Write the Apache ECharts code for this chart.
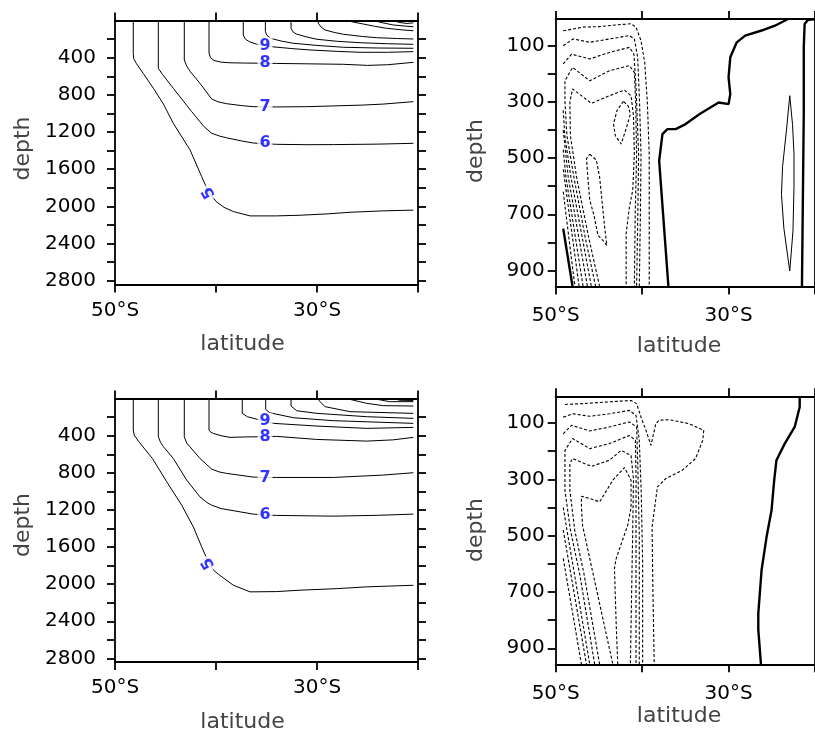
<!DOCTYPE html>
<html><head><meta charset="utf-8">
<script src="https://cdn.jsdelivr.net/npm/echarts@6/dist/echarts.min.js"></script>
<style>html,body{margin:0;padding:0;background:#fff}#c{width:815px;height:733px}</style>
</head><body><div id="c"></div>
<script>
// ---------- axis tick values ----------
const latTicks = [-50, -40, -30, -20];
const latLabels = [-50, -30];
const deepTicks = [200,400,600,800,1000,1200,1400,1600,1800,2000,2200,2400,2600,2800];
const deepLabels = [400,800,1200,1600,2000,2400,2800];
const shallowTicks = [100,200,300,400,500,600,700,800,900];
const shallowLabels = [100,300,500,700,900];

// ---------- upper-left panel: temperature contours [lat, depth] ----------
const tl5 = [[-48.19,0],[-48.19,353],[-48.15,410],[-47.9,460],[-47.2,570],[-46.2,729],[-45.2,900],[-44.23,1106],[-42.57,1392],[-41.42,1679],[-40.76,1840],[-39.98,1948],[-39.2,2010],[-38.29,2055],[-36.63,2102],[-34,2102],[-31.68,2095],[-28.9,2080],[-26.73,2063],[-23.5,2048],[-20.46,2040]];
const tl6 = [[-45.71,0],[-45.71,514],[-45.3,580],[-44.23,729],[-42.41,980],[-41.2,1140],[-40.43,1213],[-39.6,1245],[-38.95,1262],[-37.5,1295],[-36.31,1318],[-34,1332],[-31,1336],[-28.38,1335],[-24,1330],[-20.46,1321]];
const tl7 = [[-43.14,0],[-43.14,425],[-42.9,490],[-42.58,545],[-41.59,676],[-40.43,844],[-39.8,875],[-38.95,895],[-37.5,915],[-36.31,927],[-34,930],[-31,927],[-28.38,919],[-25.5,910],[-23.43,899],[-20.46,873]];
const tl8 = [[-40.69,0],[-40.69,350],[-40.55,400],[-40.2,430],[-39.5,448],[-38.6,455],[-37,458],[-35.15,460],[-34,462],[-31,466],[-27.4,471],[-25,483],[-23,476],[-20.46,450]];
const tl9 = [[-37.3,0],[-37.3,156],[-37.1,200],[-36.7,228],[-36,254],[-35.15,268],[-34.49,282],[-32.5,302],[-30.69,317],[-28,332],[-25.74,342],[-23,342],[-20.46,335]];
const tl10 = [[-35.11,0],[-35.11,120],[-34.95,160],[-34.6,192],[-33.5,222],[-32.35,245],[-30,268],[-27.4,288],[-24,296],[-20.46,299]];
const tl11 = [[-32.57,0],[-32.57,84],[-32.4,120],[-32.06,145],[-31,178],[-30,202],[-28,224],[-25.74,239],[-23,250],[-20.46,256]];
const tl12 = [[-29.87,0],[-29.87,30],[-29.6,70],[-29.2,102],[-28.3,128],[-27.4,148],[-25.5,172],[-24.1,185],[-22,194],[-20.46,199]];
const tl13 = [[-27.06,0],[-26.5,15],[-25.41,38],[-24.3,62],[-23.1,84],[-21.5,102],[-20.46,110]];
const tl14 = [[-24.43,0],[-23.5,25],[-22.45,48],[-21.3,60],[-20.46,67]];
const tl15 = [[-22.5,0],[-21.8,22],[-21.1,32],[-20.46,25]];
const tlLabels = [[-35.15,268,'9'],[-35.15,460,'8'],[-35.15,927,'7'],[-35.15,1320,'6'],[-40.7,1850,'5']];

// ---------- lower-left panel ----------
const bl5 = [[-48.19,0],[-48.19,339],[-48.1,393],[-47.6,470],[-46.3,645],[-44.88,896],[-43.4,1148],[-42.25,1382],[-41.42,1597],[-40.92,1722],[-40.26,1848],[-39.77,1893],[-38.29,2011],[-36.63,2083],[-34,2080],[-31.68,2065],[-28,2048],[-25.08,2029],[-20.46,2012]];
const bl6 = [[-45.71,0],[-45.71,411],[-45.5,470],[-45.2,519],[-44.23,645],[-42.9,879],[-41.59,1059],[-40.9,1120],[-40.43,1148],[-39.5,1185],[-38.61,1202],[-36.31,1245],[-35.15,1255],[-34,1259],[-28.38,1267],[-24,1258],[-20.46,1245]];
const bl7 = [[-43.14,0],[-43.14,411],[-42.9,480],[-42.58,519],[-41.59,645],[-40.43,760],[-39.7,790],[-38.95,806],[-36.31,846],[-35.15,849],[-34,850],[-28.38,850],[-23.43,824],[-20.46,799]];
const bl8 = [[-40.69,0],[-40.69,339],[-40.5,365],[-40.26,375],[-39.5,400],[-38.61,418],[-37,413],[-35.15,411],[-34,407],[-30.04,440],[-25.08,458],[-22.5,445],[-20.46,418]];
const bl9 = [[-37.4,0],[-37.4,159],[-36.9,195],[-35.64,231],[-35.15,245],[-34.3,267],[-30,296],[-25.08,321],[-20.46,310]];
const bl10 = [[-35.08,0],[-35.08,116],[-34.7,152],[-32.35,206],[-28.38,238],[-20.46,267]];
const bl11 = [[-32.57,0],[-32.57,80],[-32.0,131],[-30,159],[-25.08,195],[-20.46,213]];
const bl12 = [[-29.8,0],[-29.8,22],[-29.2,87],[-26.73,141],[-20.46,159]];
const bl13 = [[-27.06,0],[-25.08,51],[-23.44,76],[-20.46,80]];
const bl14 = [[-24.43,0],[-22.8,33],[-20.46,33]];
const bl15 = [[-22.5,0],[-21.8,18],[-20.46,20]];
const blLabels = [[-35.15,242,'9'],[-35.15,411,'8'],[-35.15,849,'7'],[-35.15,1255,'6'],[-40.76,1776,'5']];

// ---------- upper-right panel: zero (thick), positive (thin), negative (dashed) ----------
const trZeroA = [[-36.96,957],[-38.03,510],[-37.65,415],[-37.08,397],[-36.12,397],[-34.97,379],[-33.25,341],[-31.15,302],[-30.0,308],[-29.8,272],[-30.0,213],[-29.8,141],[-29.05,88],[-28.08,64],[-26.18,46],[-24.64,29],[-23.12,5]];
const trZeroB = [[-21.51,957],[-21.3,344],[-21.3,106],[-21.2,23],[-20.8,8],[-20.0,6]];
const trZeroC = [[-49.13,751],[-48.05,957]];
const trPos = [[-22.92,278],[-23.3,400],[-23.75,530],[-23.88,629],[-23.6,750],[-22.92,902],[-22.55,760],[-22.43,600],[-22.43,486],[-22.6,380],[-22.92,278]];
const trNeg1 = [[-49.13,47],[-46.83,34],[-44.92,32],[-43.0,26],[-41.28,22],[-40.71,34],[-40.13,82],[-39.7,160],[-39.4,300],[-39.18,486],[-39.18,957]];
const trNeg2 = [[-49.13,100],[-47.98,76],[-46.06,88],[-43.77,76],[-41.47,64],[-40.9,76],[-40.52,140],[-40.3,300],[-40.13,486],[-40.2,700],[-40.33,957]];
const trNeg3 = [[-49.13,165],[-48.16,130],[-46.06,147],[-43.77,124],[-41.47,106],[-40.95,130],[-40.7,250],[-40.41,486],[-40.5,700],[-40.64,957]];
const trNeg4 = [[-45.38,957],[-46.6,780],[-47.9,567],[-48.7,420],[-48.93,300],[-48.93,225],[-48.05,177],[-46.06,225],[-43.77,189],[-41.47,171],[-40.9,195],[-40.75,300],[-40.64,486],[-40.8,700],[-40.9,957]];
const trNeg5 = [[-44.92,957],[-46.2,780],[-47.59,567],[-48.3,420],[-48.36,300],[-48.05,254],[-45.87,305],[-43.77,278],[-42.05,258],[-41.28,278],[-41.0,350],[-40.9,486],[-41.09,615],[-41.47,674],[-41.85,769],[-41.85,957]];
const trNegL1 = [[-49.13,330],[-48.95,420],[-48.24,567],[-45.87,957]];
const trNegL2 = [[-49.13,400],[-48.55,567],[-46.33,957]];
const trNegL3 = [[-49.13,470],[-48.82,567],[-46.83,957]];
const trNegL4 = [[-49.13,540],[-47.29,957]];
const trNegL5 = [[-49.13,620],[-47.78,957]];
const trNegEll = [[-42.16,298],[-42.9,330],[-43.31,379],[-43.1,420],[-42.43,450],[-41.9,400],[-41.36,344],[-41.6,315],[-42.16,298]];
const trNegTongue = [[-46.06,486],[-45.3,507],[-44.92,567],[-44.34,745],[-44.08,811],[-44.54,793],[-45.11,775],[-45.6,700],[-46.06,650],[-46.3,560],[-46.44,502],[-46.06,486]];

// ---------- lower-right panel ----------
const brZero = [[-21.77,5],[-21.77,43],[-22.35,114],[-23.5,173],[-24.46,232],[-24.72,303],[-25.03,410],[-25.6,504],[-26.18,622],[-26.56,776],[-26.56,835],[-26.25,957]];
const brNeg1 = [[-48.93,34],[-46.83,31],[-43.0,23],[-41.28,20],[-40.64,31],[-40.13,79],[-39.56,126],[-38.98,179],[-38.41,102],[-38.03,90],[-36.88,88],[-34.59,102],[-32.87,126],[-32.98,161],[-33.82,226],[-35.36,268],[-37.26,297],[-38.23,327],[-38.49,386],[-38.85,470],[-38.75,700],[-38.6,957]];
const brNeg2 = [[-49.13,79],[-47.98,67],[-46.06,76],[-43.77,67],[-41.47,55],[-40.71,73],[-40.33,161],[-40.1,350],[-39.94,600],[-39.94,957]];
const brNeg3 = [[-49.13,138],[-48.16,108],[-46.06,128],[-43.77,114],[-41.47,96],[-40.64,114],[-40.5,250],[-40.33,500],[-40.33,957]];
const brNeg4 = [[-45.49,957],[-47.2,640],[-48.3,480],[-48.93,339],[-48.93,197],[-48.05,155],[-46.06,191],[-43.77,173],[-41.47,144],[-40.78,161],[-40.7,300],[-40.71,500],[-40.71,957]];
const brNeg5 = [[-44.92,957],[-46.7,640],[-47.8,480],[-48.36,339],[-48.36,244],[-48.05,226],[-45.87,254],[-43.77,232],[-42.43,197],[-41.28,215],[-41.0,300],[-41.1,500],[-41.36,957]];
const brNeg6 = [[-42.82,957],[-43.0,817],[-43.2,616],[-43.0,581],[-41.67,463],[-41.28,400],[-41.28,303],[-42.05,258],[-43.39,303],[-44.92,380],[-46.06,368],[-47.02,360],[-47.02,398],[-46.9,463],[-43.39,957]];
const brNegL1 = [[-49.13,400],[-48.7,480],[-46.06,957]];
const brNegL2 = [[-49.13,480],[-46.44,957]];
const brNegL3 = [[-49.13,581],[-47.02,957]];

// ---------- build chart ----------
const FONT = 'DejaVu Sans';
const grids = [
  {left:115, top:20.5, width:303, height:264},
  {left:555.7, top:19, width:261.5, height:267.5},
  {left:115, top:398.6, width:303, height:263.5},
  {left:555.7, top:396.3, width:261.5, height:268}
];
const axLine = {show:true, onZero:false, lineStyle:{color:'#000', width:1.8}};
const tick = (vals) => ({show:true, inside:false, length:8, lineStyle:{color:'#000', width:1.8}, customValues: vals});
const xAxes = [], yAxes = [];
grids.forEach((g, i) => {
  const deep = (i % 2 === 0);
  xAxes.push({gridIndex:i, type:'value', min:-50, max:-20, position:'bottom', axisLine:axLine, axisTick:tick(latTicks),
    splitLine:{show:false},
    axisLabel:{show:true, customValues:latLabels, margin: deep?16:19, color:'#000', fontSize:20, fontFamily:FONT,
      formatter:v => Math.abs(v) + '°S'}});
  xAxes.push({gridIndex:i, type:'value', min:-50, max:-20, position:'top', axisLine:axLine, axisTick:tick(latTicks),
    splitLine:{show:false}, axisLabel:{show:false}});
  const ymin = deep ? 0 : 5, ymax = deep ? 2840 : 957;
  yAxes.push({gridIndex:i, type:'value', inverse:true, min:ymin, max:ymax, position:'left', axisLine:axLine,
    axisTick:tick(deep?deepTicks:shallowTicks), splitLine:{show:false},
    axisLabel:{show:true, customValues: deep?deepLabels:shallowLabels, margin: deep?19:11, color:'#000', fontSize:20, fontFamily:FONT,
      formatter: v => String(v)}});
  yAxes.push({gridIndex:i, type:'value', inverse:true, min:ymin, max:ymax, position:'right', axisLine:axLine,
    axisTick:tick(deep?deepTicks:shallowTicks), splitLine:{show:false}, axisLabel:{show:false}});
});

const series = [];
function addLine(data, gi, kind) {
  const st = {solid:{color:'#000', width:1, type:'solid'},
              zero:{color:'#000', width:2.4, type:'solid'},
              neg:{color:'#000', width:1.1, type:[3,2]}}[kind];
  series.push({type:'line', xAxisIndex:gi*2, yAxisIndex:gi*2, data:data, symbol:'none', showSymbol:false,
    silent:true, animation:false, lineStyle:st, z:2, clip:true});
}
function addLabels(lbls, gi) {
  series.push({type:'scatter', xAxisIndex:gi*2, yAxisIndex:gi*2, symbolSize:0, silent:true, animation:false, z:5,
    data: lbls.map(l => ({value:[l[0], l[1]], name:l[2],
      label: l[2] === '5' ? {rotate:120} : {}})),
    label:{show:true, position:'inside', formatter: p => p.name, color:'#0000ff', fontWeight:'bold', fontSize:16,
      fontFamily:FONT, backgroundColor:'#fff', padding:[0,2]}});
}
[tl5,tl6,tl7,tl8,tl9,tl10,tl11,tl12,tl13,tl14,tl15].forEach(d => addLine(d, 0, 'solid'));
addLabels(tlLabels, 0);
[bl5,bl6,bl7,bl8,bl9,bl10,bl11,bl12,bl13,bl14,bl15].forEach(d => addLine(d, 2, 'solid'));
addLabels(blLabels, 2);
[trZeroA,trZeroB,trZeroC].forEach(d => addLine(d, 1, 'zero'));
addLine(trPos, 1, 'solid');
[trNeg1,trNeg2,trNeg3,trNeg4,trNeg5,trNegL1,trNegL2,trNegL3,trNegL4,trNegL5,trNegEll,trNegTongue].forEach(d => addLine(d, 1, 'neg'));
addLine(brZero, 3, 'zero');
[brNeg1,brNeg2,brNeg3,brNeg4,brNeg5,brNeg6,brNegL1,brNegL2,brNegL3].forEach(d => addLine(d, 3, 'neg'));

const titleStyle = {fill:'#444', font:'22px "DejaVu Sans"', textAlign:'center', textVerticalAlign:'middle'};
const titles = [
  {t:'latitude', x:242.5, y:344, r:0}, {t:'depth', x:23, y:148.5, r:Math.PI/2},
  {t:'latitude', x:679, y:346, r:0}, {t:'depth', x:476, y:151, r:Math.PI/2},
  {t:'latitude', x:242.5, y:722, r:0}, {t:'depth', x:23, y:525, r:Math.PI/2},
  {t:'latitude', x:679, y:716, r:0}, {t:'depth', x:476, y:530, r:Math.PI/2}
];
const graphic = titles.map(o => ({type:'text', x:o.x, y:o.y, rotation:o.r, style:Object.assign({text:o.t}, titleStyle)}));

const chart = echarts.init(document.getElementById('c'), null, {renderer:'canvas'});
chart.setOption({animation:false, backgroundColor:'#fff', grid:grids, xAxis:xAxes, yAxis:yAxes, series:series, graphic:graphic});
</script></body></html>
